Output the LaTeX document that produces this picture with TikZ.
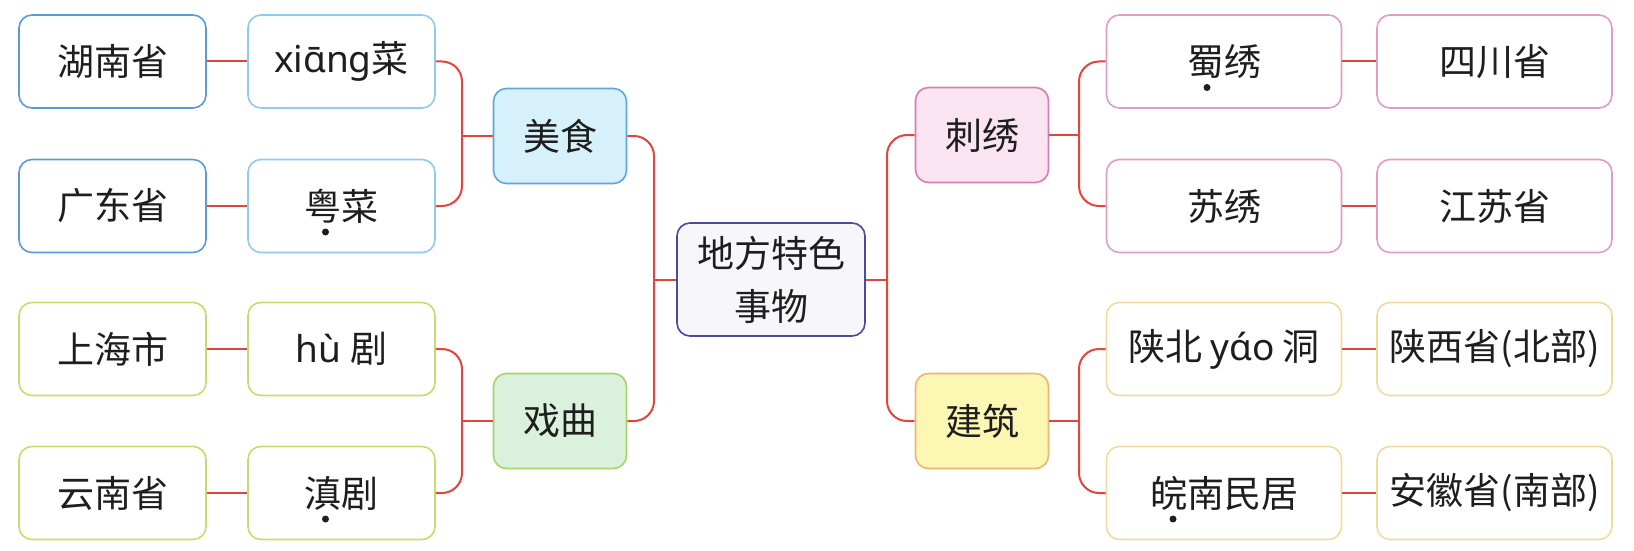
\documentclass[tikz,border=0pt]{standalone}
\usepackage{fontspec}
\setmainfont{Noto Sans CJK SC}
\newfontfamily\py{Noto Sans}
\usetikzlibrary{calc}
\definecolor{conn}{HTML}{E0463C}
\definecolor{txt}{HTML}{1E1E1E}
\definecolor{bdA}{HTML}{5A9BD8}
\definecolor{bdB}{HTML}{8FCAF0}
\definecolor{msF}{HTML}{D6F1FB}
\definecolor{msB}{HTML}{5AA8E0}
\definecolor{grB}{HTML}{C6DC6C}
\definecolor{xqF}{HTML}{DAF2DD}
\definecolor{xqB}{HTML}{A8D462}
\definecolor{pkB}{HTML}{E39CC3}
\definecolor{cxF}{HTML}{FBE4F2}
\definecolor{cxB}{HTML}{D97CB0}
\definecolor{ylB}{HTML}{EFDC9C}
\definecolor{jzF}{HTML}{FDF7B4}
\definecolor{jzB}{HTML}{EFB373}
\definecolor{ctB}{HTML}{4B4B9B}
\definecolor{ctF}{HTML}{F6F6FB}
\tikzset{
  x=1pt,y=-1pt,
  box/.style={draw, line width=1.6pt, rounded corners=13pt, align=center,
    text=txt, font=\fontsize{37}{53}\selectfont, inner sep=0pt},
  leaf/.style={box, minimum width=187pt, minimum height=93pt},
  wleaf/.style={box, minimum width=235pt, minimum height=93pt},
  mid/.style={box, minimum width=133pt, minimum height=95pt},
  link/.style={draw=conn, line width=2pt, rounded corners=20pt},
  emdot/.style={fill=txt}
}
\begin{document}
\begin{tikzpicture}
\useasboundingbox (0,0) rectangle (1634,551);
% left: 美食
\node[leaf, draw=bdA] (hunan) at (112.5,61.5) {湖南省};
\node[leaf, draw=bdB] (xiang) at (341.5,61.5) {{\py xiɑ̄ng}菜};
\node[leaf, draw=bdA] (guangdong) at (112.5,206) {广东省};
\node[leaf, draw=bdB] (yue) at (341.5,206) {粤菜};
\node[mid, draw=msB, fill=msF] (meishi) at (560,136) {美食};
% left: 戏曲
\node[leaf, draw=grB] (shanghai) at (112.5,349) {上海市};
\node[leaf, draw=grB] (hu) at (341.5,349) {{\py hù} 剧};
\node[leaf, draw=grB] (yunnan) at (112.5,493) {云南省};
\node[leaf, draw=grB] (dian) at (341.5,493) {滇剧};
\node[mid, draw=xqB, fill=xqF] (xiqu) at (560,421) {戏曲};
% center
\node[box, draw=ctB, fill=ctF, minimum width=188pt, minimum height=113pt] (center) at (771,279.5) {地方特色\\事物};
% right: 刺绣
\node[mid, draw=cxB, fill=cxF] (cixiu) at (982,135) {刺绣};
\node[wleaf, draw=pkB] (shuxiu) at (1224,61.5) {蜀绣};
\node[wleaf, draw=pkB] (sichuan) at (1494.5,61.5) {四川省};
\node[wleaf, draw=pkB] (suxiu) at (1224,206) {苏绣};
\node[wleaf, draw=pkB] (jiangsu) at (1494.5,206) {江苏省};
% right: 建筑
\node[mid, draw=jzB, fill=jzF] (jianzhu) at (982,421) {建筑};
\node[wleaf, draw=ylB] (yaodong) at (1224,349) {陕北 {\py yɑ́o} 洞};
\node[wleaf, draw=ylB] (shaanxi) at (1494.5,349) {陕西省(北部)};
\node[wleaf, draw=ylB] (wannan) at (1224,493) {皖南民居};
\node[wleaf, draw=ylB] (anhui) at (1494.5,493) {安徽省(南部)};
% junctions
\coordinate (jms) at (462,136);
\coordinate (jxq) at (462,421);
\coordinate (jl) at (654,279.5);
\coordinate (jr) at (887,279.5);
\coordinate (jcx) at (1079,135);
\coordinate (jjz) at (1079,421);
% connectors
\draw[link] (hunan) -- (xiang);
\draw[link] (guangdong) -- (yue);
\draw[link] (shanghai) -- (hu);
\draw[link] (yunnan) -- (dian);
\draw[link] (shuxiu) -- (sichuan);
\draw[link] (suxiu) -- (jiangsu);
\draw[link] (yaodong) -- (shaanxi);
\draw[link] (wannan) -- (anhui);
\draw[link] (xiang.east) -| (jms) |- (yue.east);
\draw[link] (jms) -- (meishi.west);
\draw[link] (hu.east) -| (jxq) |- (dian.east);
\draw[link] (jxq) -- (xiqu.west);
\draw[link] (meishi.east) -| (jl) |- (xiqu.east);
\draw[link] (jl) -- (center.west);
\draw[link] (cixiu.west) -| (jr) |- (jianzhu.west);
\draw[link] (jr) -- (center.east);
\draw[link] (shuxiu.west) -| (jcx) |- (suxiu.west);
\draw[link] (jcx) -- (cixiu.east);
\draw[link] (yaodong.west) -| (jjz) |- (wannan.west);
\draw[link] (jjz) -- (jianzhu.east);
% emphasis dots
\fill[emdot] ($(yue.center)+(-16,26)$) circle (3.5);
\fill[emdot] ($(dian.center)+(-16,26)$) circle (3.5);
\fill[emdot] ($(shuxiu.center)+(-17,26)$) circle (3.5);
\fill[emdot] ($(wannan.center)+(-51,26)$) circle (3.5);
\end{tikzpicture}
\end{document}
